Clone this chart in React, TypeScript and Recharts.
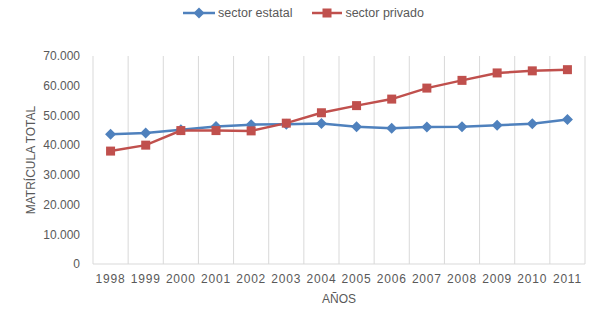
import React from "react";
import { CartesianGrid, Legend, Line, LineChart, ReferenceLine, XAxis, YAxis } from "recharts";

const years = ["1998", "1999", "2000", "2001", "2002", "2003", "2004", "2005", "2006", "2007", "2008", "2009", "2010", "2011"];
const estatal = [43700, 44100, 45200, 46300, 46900, 47000, 47300, 46200, 45700, 46100, 46200, 46700, 47200, 48600];
const privado = [38000, 40000, 44900, 44900, 44800, 47400, 50900, 53300, 55500, 59200, 61800, 64300, 65000, 65400];
const yTicks = [0, 10000, 20000, 30000, 40000, 50000, 60000, 70000];

const data = years.map((y, i) => ({ idx: i, year: y, estatal: estatal[i], privado: privado[i] }));
// category boundaries, so the grid sits between the points like Excel does
const boundaries = years.map((_, i) => i - 0.5).concat(years.length - 0.5);

const BLUE = "#4F81BD";
const RED = "#C0504D";
const TEXT = "#595959";
const FONT = "'Liberation Sans', Arial, sans-serif";

const fmt = (v: number) => (v === 0 ? "0" : v.toLocaleString("de-DE"));

const Diamond = (props: any) => {
  const { cx, cy } = props;
  if (cx == null || cy == null) return null;
  const r = 5.5;
  return <polygon points={`${cx},${cy - r} ${cx + r},${cy} ${cx},${cy + r} ${cx - r},${cy}`} fill={BLUE} />;
};

const Square = (props: any) => {
  const { cx, cy } = props;
  if (cx == null || cy == null) return null;
  const s = 9;
  return <rect x={cx - s / 2} y={cy - s / 2} width={s} height={s} fill={RED} />;
};

const LegendContent = () => (
  <div style={{ display: "flex", justifyContent: "center", gap: 20, paddingLeft: 22, fontFamily: FONT, fontSize: 12.5, color: TEXT }}>
    <span style={{ display: "flex", alignItems: "center", gap: 3 }}>
      <svg width={32} height={12}>
        <line x1={0} y1={6} x2={32} y2={6} stroke={BLUE} strokeWidth={2.5} />
        <polygon points="16,0.5 21.5,6 16,11.5 10.5,6" fill={BLUE} />
      </svg>
      sector estatal
    </span>
    <span style={{ display: "flex", alignItems: "center", gap: 3 }}>
      <svg width={30} height={12}>
        <line x1={0} y1={6} x2={30} y2={6} stroke={RED} strokeWidth={2.5} />
        <rect x={10.5} y={1.5} width={9} height={9} fill={RED} />
      </svg>
      sector privado
    </span>
  </div>
);

export default function App() {
  return (
    <div style={{ position: "absolute", left: 0, top: 0, width: 598, height: 319, background: "#fff" }}>
      <LineChart width={598} height={319} data={data} margin={{ top: 42, right: 13, bottom: 25, left: 0 }}>
        <CartesianGrid horizontal={false} vertical={false} />
        {boundaries.map((b) => (
          <ReferenceLine key={b} x={b} stroke="#d9d9d9" strokeWidth={1} />
        ))}
        <XAxis
          dataKey="idx"
          type="number"
          domain={[-0.5, years.length - 0.5]}
          ticks={data.map((d) => d.idx)}
          tickFormatter={(v: number) => years[v] ?? ""}
          tickLine={false}
          tickSize={0}
          tickMargin={10}
          axisLine={{ stroke: "#d9d9d9" }}
          height={30}
          tick={{ fontSize: 12, fill: TEXT, fontFamily: FONT, letterSpacing: 0.8 }}
          label={{ value: "AÑOS", position: "bottom", offset: 0, fontSize: 12, fill: TEXT, fontFamily: FONT }}
        />
        <YAxis
          width={93}
          domain={[0, 70000]}
          ticks={yTicks}
          tickFormatter={fmt}
          axisLine={false}
          tickLine={false}
          tickSize={0}
          tickMargin={13}
          tick={{ fontSize: 12, fill: TEXT, fontFamily: FONT }}
          label={{ value: "MATRÍCULA TOTAL", angle: -90, position: "center", dx: -16, fontSize: 12, fill: TEXT, fontFamily: FONT }}
        />
        <Legend verticalAlign="top" wrapperStyle={{ top: 6 }} content={<LegendContent />} />
        <Line dataKey="estatal" name="sector estatal" stroke={BLUE} strokeWidth={2.5} dot={<Diamond />} activeDot={false} isAnimationActive={false} />
        <Line dataKey="privado" name="sector privado" stroke={RED} strokeWidth={2.5} dot={<Square />} activeDot={false} isAnimationActive={false} />
      </LineChart>
    </div>
  );
}
